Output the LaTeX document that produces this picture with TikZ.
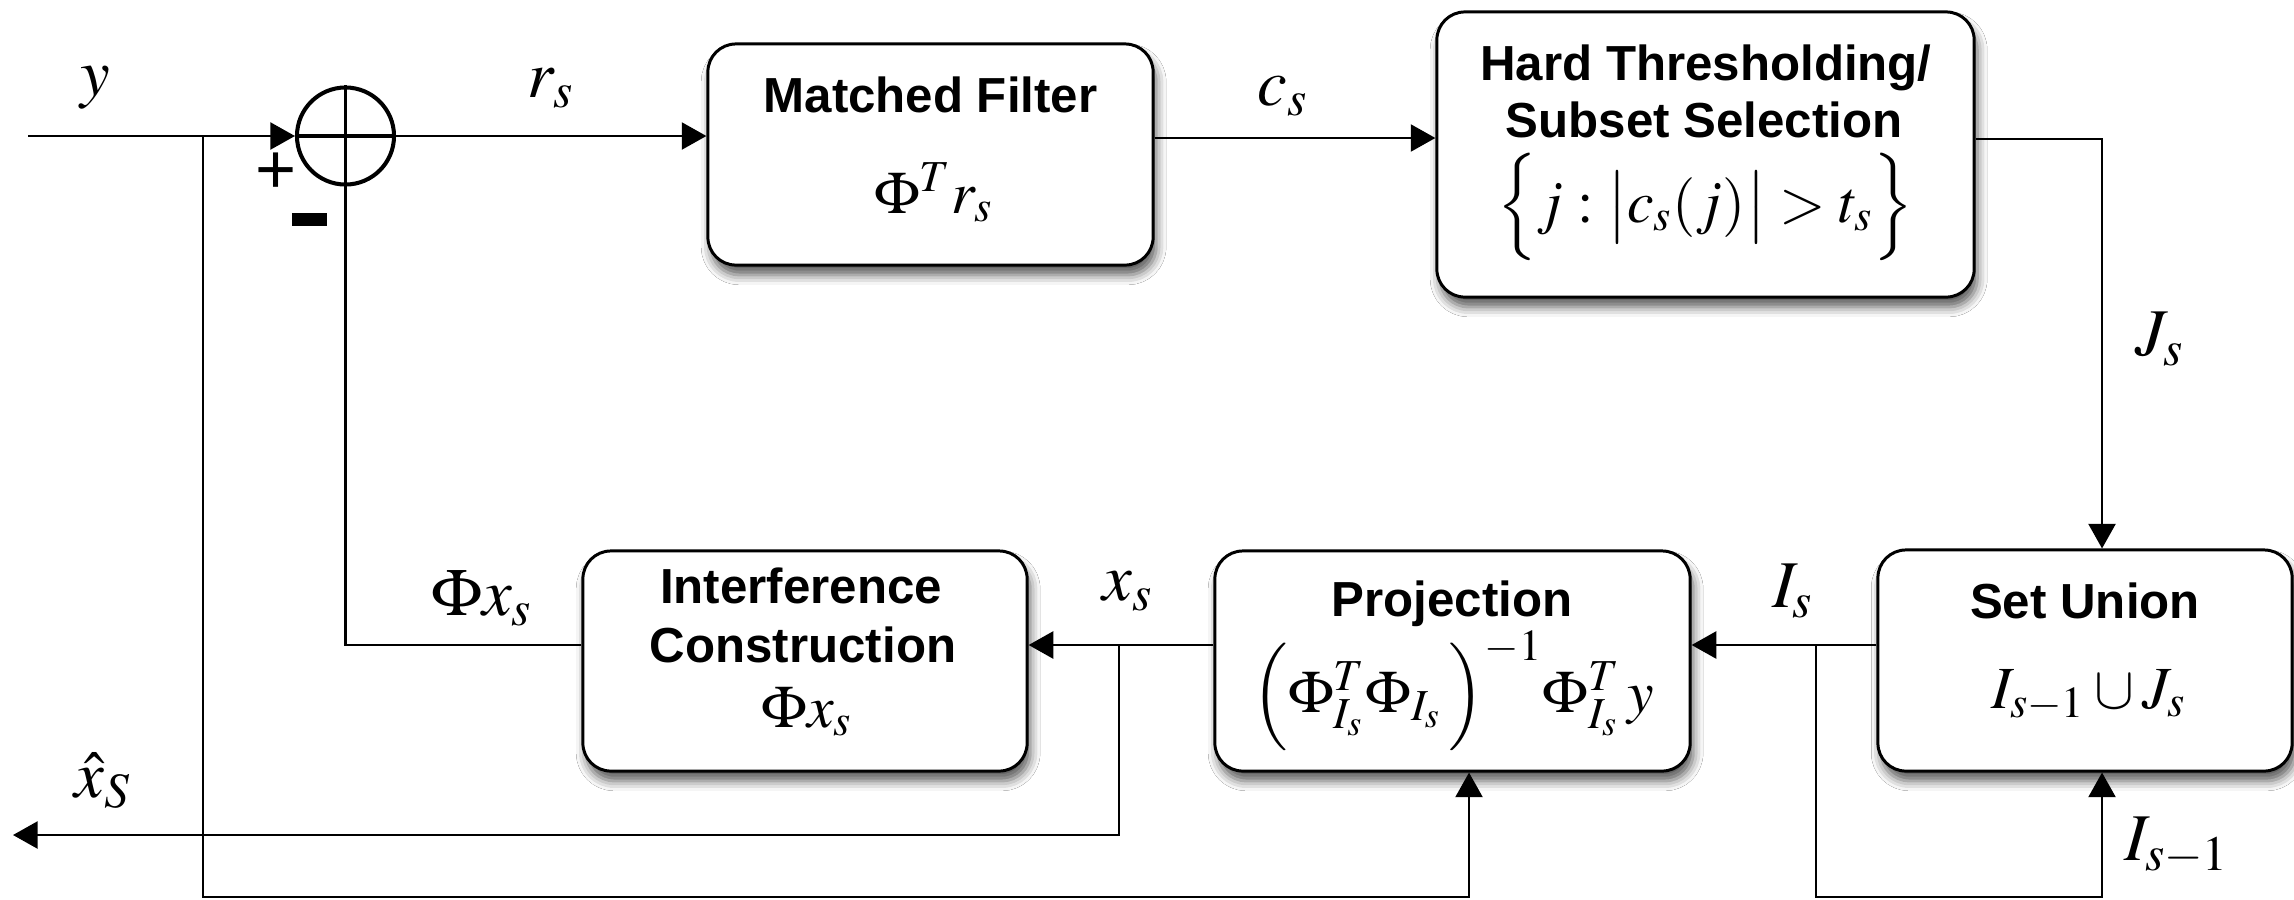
\documentclass[tikz,border=0pt]{standalone}
\usepackage{mathptmx}
\usepackage[no-math]{fontspec}
\setsansfont{Liberation Sans}
\usetikzlibrary{arrows.meta,shadows.blur}

\tikzset{
  blk/.style={draw=black, line width=0.85pt, rounded corners=0.28cm, fill=white, inner sep=0pt,
    blur shadow={shadow xshift=0.9pt, shadow yshift=-2.8pt, shadow blur radius=2.8pt, shadow opacity=65}},
  ttl/.style={font=\sffamily\bfseries\fontsize{14}{16}\selectfont, anchor=base, inner sep=0pt},
  eqn/.style={font=\fontsize{17}{20}\selectfont, anchor=base, inner sep=0pt},
  lbl/.style={font=\fontsize{19}{22}\selectfont, anchor=base, inner sep=0pt},
  wire/.style={line width=0.6pt},
  arr/.style={wire, -{Triangle[length=7pt,width=7.7pt]}},
}

\begin{document}
\begin{tikzpicture}[x=0.01cm,y=-0.01cm]
\useasboundingbox[fill=white] (0,0) rectangle (2294,899);

% processing blocks
\node[blk, minimum width=4.45cm, minimum height=2.21cm] (mf) at (930.5,154.5) {};
\node[blk, minimum width=5.37cm, minimum height=2.85cm] (ht) at (1705.5,154.5) {};
\node[blk, minimum width=4.44cm, minimum height=2.20cm] (ic) at (805,661) {};
\node[blk, minimum width=4.75cm, minimum height=2.20cm] (pj) at (1452.5,661) {};
\node[blk, minimum width=4.14cm, minimum height=2.21cm] (su) at (2085,660.5) {};

% summing junction
\node[circle, draw, line width=1.15pt, minimum size=0.97cm, inner sep=0pt] (sum) at (345.5,136) {};
\draw[line width=1pt] (sum.north) -- (sum.south) (sum.west) -- (sum.east);
\node[font=\sffamily\fontsize{20}{20}\selectfont, inner sep=0pt] (plus) at (276,173) {+};
\node[inner sep=0pt] (minus) at (309.5,219.5) {\rule{0.35cm}{0.13cm}};

% block contents
\node[ttl] (mf-t) at (930.5,112) {Matched Filter};
\node[eqn] (mf-e) at (934,213) {$\Phi^T r_s$};
\node[ttl] (ht-t1) at (1706,80) {Hard Thresholding/};
\node[ttl] (ht-t2) at (1704,137) {Subset Selection};
\node[eqn] (ht-e) at (1705,222) {$\Bigl\{ j : \bigl|c_s(j)\bigr| > t_s \Bigr\}$};
\node[ttl] (ic-t1) at (801,603) {Interference};
\node[ttl] (ic-t2) at (803,662) {Construction};
\node[eqn] (ic-e) at (807,727) {$\Phi x_s$};
\node[ttl] (pj-t) at (1452,616) {Projection};
\node[eqn] (pj-e) at (1453,712) {$\Bigl(\Phi^T_{I_s}\Phi_{I_s}\,\Bigr)^{-1}\Phi^T_{I_s}\,y$};
\node[ttl] (su-t) at (2085,618) {Set Union};
\node[eqn] (su-e) at (2089,708) {$I_{s-1}\cup J_s$};

% signal labels
\node[lbl] (l-y) at (95,95) {$y$};
\node[lbl] (l-r) at (551,97) {$r_s$};
\node[lbl] (l-c) at (1283,105) {$c_s$};
\node[lbl] (l-J) at (2160,355) {$J_s$};
\node[lbl] (l-Px) at (482,615) {$\Phi x_s$};
\node[lbl] (l-x) at (1128,600) {$x_s$};
\node[lbl] (l-I) at (1793,607) {$I_s$};
\node[lbl] (l-I1) at (2177,860) {$I_{s-1}$};
\node[lbl] (l-xh) at (103,797) {$\hat{x}_S$};

% connection points
\coordinate (yin) at (28,136);
\coordinate (b1) at (203,136);
\coordinate (b1bot) at (203,897);
\coordinate (b2) at (1816,645);
\coordinate (b2bot) at (1816,897);
\coordinate (b3) at (1119,645);
\coordinate (xout) at (13,835);

% signal flow
\draw[arr] (yin) -- (sum.west);
\draw[arr] (sum.east) -- (sum.east -| mf.west);
\draw[arr] ([yshift=1.65mm]mf.east) -- ([yshift=1.65mm]ht.west);
\draw[arr] ([yshift=1.55mm]ht.east) -| ([xshift=1.7mm]su.north);
\draw[arr] ([yshift=1.55mm]su.west) -- ([yshift=1.55mm]su.west -| pj.east);
\draw[arr] ([yshift=1.6mm]pj.west) -- ([yshift=1.6mm]pj.west -| ic.east);
\draw[wire] ([yshift=1.6mm]ic.west) -| (sum.south);
\draw[arr] (b1) -- (b1bot) -| ([xshift=1.65mm]pj.south);
\draw[arr] (b2) -- (b2bot) -| ([xshift=1.7mm]su.south);
\draw[arr] (b3) |- (xout);
\end{tikzpicture}
\end{document}
